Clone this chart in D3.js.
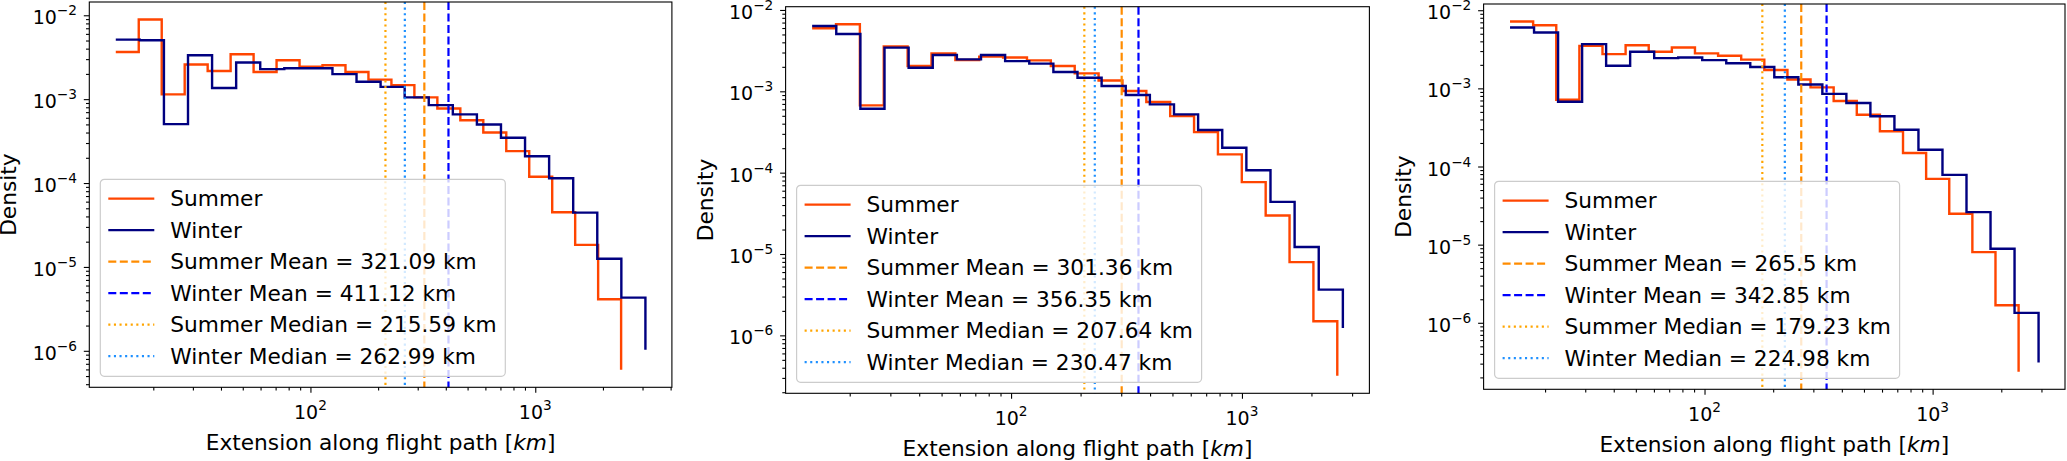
<!DOCTYPE html>
<html lang="en">
<head>
<meta charset="UTF-8">
<title>Extension along flight path</title>
<script src="https://cdn.jsdelivr.net/npm/d3@7"></script>
<style>
  body { margin: 0; background: #fff; }
  text { font-family: "DejaVu Sans", sans-serif; fill: #000; }
</style>
</head>
<body>
<script>

// histogram bins: log-spaced from the shortest to the longest flight of each season
var binStart  = [13.62, 13.75, 14.04];
var summerEnd = [2409, 2588, 2382];
var winterEnd = [3090, 2736, 2914];

// density per bin
var summer1 = [3.65e-3, 8.9e-3, 1.14e-3, 2.59e-3, 2.17e-3, 3.43e-3, 2.11e-3, 2.91e-3, 2.43e-3, 2.54e-3, 2.11e-3,
               1.71e-3, 1.47e-3, 1.05e-3, 7.74e-4, 5.6e-4, 4.0e-4, 2.4e-4, 1.19e-4, 4.48e-5, 1.83e-5, 4.12e-6];
var winter1 = [5.13e-3, 5.04e-3, 5.04e-4, 3.34e-3, 1.36e-3, 2.74e-3, 2.28e-3, 2.34e-3, 2.34e-3, 1.99e-3, 1.61e-3,
               1.40e-3, 1.05e-3, 8.49e-4, 6.58e-4, 4.99e-4, 3.47e-4, 2.09e-4, 1.14e-4, 4.44e-5, 1.25e-5, 4.31e-6];
var summer2 = [5.95e-3, 6.67e-3, 6.71e-4, 3.55e-3, 2.05e-3, 2.93e-3, 2.43e-3, 2.67e-3, 2.6e-3, 2.4e-3, 2.05e-3,
               1.66e-3, 1.36e-3, 1.01e-3, 7.38e-4, 4.95e-4, 3.15e-4, 1.68e-4, 7.64e-5, 2.97e-5, 7.94e-6, 1.49e-6];
var winter2 = [6.35e-3, 5.07e-3, 6.11e-4, 3.44e-3, 1.95e-3, 2.79e-3, 2.47e-3, 2.79e-3, 2.35e-3, 2.19e-3, 1.73e-3,
               1.47e-3, 1.16e-3, 9.0e-4, 6.9e-4, 5.2e-4, 3.34e-4, 2.02e-4, 1.07e-4, 4.38e-5, 1.22e-5, 3.65e-6];
var summer3 = [7.17e-3, 6.43e-3, 7.16e-4, 3.5e-3, 2.74e-3, 3.57e-3, 2.94e-3, 3.34e-3, 2.8e-3, 2.61e-3, 2.33e-3,
               1.72e-3, 1.30e-3, 1.03e-3, 6.9e-4, 4.6e-4, 2.82e-4, 1.49e-4, 6.95e-5, 2.48e-5, 8.03e-6, 1.68e-6];
var winter3 = [6.01e-3, 5.19e-3, 6.75e-4, 3.68e-3, 1.95e-3, 2.94e-3, 2.44e-3, 2.48e-3, 2.3e-3, 2.1e-3, 1.88e-3,
               1.39e-3, 1.12e-3, 8.5e-4, 6.5e-4, 4.4e-4, 2.95e-4, 1.64e-4, 7.82e-5, 2.61e-5, 8.87e-6, 1.34e-6];
// where the outline drops after the last bin
var summerTail = [5.94e-7, 3.19e-7, 2.36e-7];
var winterTail = [1.03e-6, 1.23e-6, 3.1e-7];

var summerMean   = [321.09, 301.36, 265.5];
var winterMean   = [411.12, 356.35, 342.85];
var summerMedian = [215.59, 207.64, 179.23];
var winterMedian = [262.99, 230.47, 224.98];

var xTickValues = [1e2, 1e3];
var xTickLabels = ["2", "3"];
var yTickValues = [1e-2, 1e-3, 1e-4, 1e-5, 1e-6];
var yTickLabels = ["\u22122", "\u22123", "\u22124", "\u22125", "\u22126"];

var summerValues = [summer1, summer2, summer3];
var winterValues = [winter1, winter2, winter3];

// axes boxes in pixels
var boxes = [
    { left: 89.3,   right: 671.9,  top: 2,   bottom: 387.3 },
    { left: 785.6,  right: 1369.4, top: 6.7, bottom: 393.3 },
    { left: 1483.6, right: 2065,   top: 4,   bottom: 389.3 }
];

var colors = {
    summer: "#ff4500", winter: "#000080",
    summerMean: "#ff8c00", winterMean: "#0000ff",
    summerMedian: "#ffa500", winterMedian: "#1e90ff"
};
var dashed = "8,3.5";
var dotted = "2.1,3.5";

var svg = d3.select("body").append("svg")
    .attr("width", 2067)
    .attr("height", 461);

svg.append("rect").attr("width", 2067).attr("height", 461).attr("fill", "white");

function logEdges(lo, hi, n) {
    var a = Math.log10(lo), b = Math.log10(hi);
    return d3.range(n + 1).map(function (k) { return Math.pow(10, a + (b - a) * k / n); });
}

// matplotlib-like 5% margin in log space
function padded(lo, hi) {
    var a = Math.log10(lo), b = Math.log10(hi), m = (b - a) * 0.05;
    return [Math.pow(10, a - m), Math.pow(10, b + m)];
}

// "10" with a raised exponent
function powLabel(sel, sup) {
    sel.append("tspan").text("10");
    sel.append("tspan")
        .attr("font-size", "0.72em")
        .attr("dy", -9)
        .text(sup);
}

function drawPanel(i) {
    var box = boxes[i];
    var summer = summerValues[i], winter = winterValues[i];
    var sEdges = logEdges(binStart[i], summerEnd[i], summer.length);
    var wEdges = logEdges(binStart[i], winterEnd[i], winter.length);

    var allY = summer.concat(winter, [summerTail[i], winterTail[i]]);
    var x = d3.scaleLog()
        .domain(padded(binStart[i], Math.max(summerEnd[i], winterEnd[i])))
        .range([box.left, box.right]);
    var y = d3.scaleLog()
        .domain(padded(d3.min(allY), d3.max(allY)))
        .range([box.bottom, box.top]);

    var g = svg.append("g");

    var line = d3.line()
        .x(function (d) { return x(d[0]); })
        .y(function (d) { return y(d[1]); })
        .curve(d3.curveStepAfter);

    function stepPoints(values, edges, tail) {
        var pts = values.map(function (v, k) { return [edges[k], v]; });
        pts.push([edges[values.length], tail]);
        return pts;
    }

    g.append("path")
        .attr("d", line(stepPoints(summer, sEdges, summerTail[i])))
        .attr("fill", "none")
        .attr("stroke", colors.summer)
        .attr("stroke-width", 2.4);

    g.append("path")
        .attr("d", line(stepPoints(winter, wEdges, winterTail[i])))
        .attr("fill", "none")
        .attr("stroke", colors.winter)
        .attr("stroke-width", 2.4);

    var stats = [
        { v: summerMean[i],   color: colors.summerMean,   dash: dashed, label: "Summer Mean = " + summerMean[i] + " km" },
        { v: winterMean[i],   color: colors.winterMean,   dash: dashed, label: "Winter Mean = " + winterMean[i] + " km" },
        { v: summerMedian[i], color: colors.summerMedian, dash: dotted, label: "Summer Median = " + summerMedian[i] + " km" },
        { v: winterMedian[i], color: colors.winterMedian, dash: dotted, label: "Winter Median = " + winterMedian[i] + " km" }
    ];

    g.selectAll(".vline")
        .data(stats)
        .enter().append("line")
        .attr("class", "vline")
        .attr("x1", function (d) { return x(d.v); })
        .attr("x2", function (d) { return x(d.v); })
        .attr("y1", box.top)
        .attr("y2", box.bottom)
        .attr("stroke", function (d) { return d.color; })
        .attr("stroke-width", 2.2)
        .attr("stroke-dasharray", function (d) { return d.dash; });

    // axes
    var xMinor = x.ticks().filter(function (t) { return xTickValues.indexOf(t) < 0; });
    var yMinor = y.ticks().filter(function (t) { return yTickValues.indexOf(t) < 0; });

    function styleAxis(a) {
        a.select(".domain").remove();
        a.selectAll("line").attr("stroke", "#000").attr("stroke-width", 1.1);
    }

    g.append("g")
        .attr("transform", "translate(0," + box.bottom + ")")
        .call(d3.axisBottom(x).tickValues(xMinor).tickSize(3.3).tickSizeOuter(0).tickFormat(""))
        .call(styleAxis);
    g.append("g")
        .attr("transform", "translate(0," + box.bottom + ")")
        .call(d3.axisBottom(x).tickValues(xTickValues).tickSize(5.5).tickSizeOuter(0).tickFormat(""))
        .call(styleAxis);
    g.append("g")
        .attr("transform", "translate(" + box.left + ",0)")
        .call(d3.axisLeft(y).tickValues(yMinor).tickSize(3.3).tickSizeOuter(0).tickFormat(""))
        .call(styleAxis);
    g.append("g")
        .attr("transform", "translate(" + box.left + ",0)")
        .call(d3.axisLeft(y).tickValues(yTickValues).tickSize(5.5).tickSizeOuter(0).tickFormat(""))
        .call(styleAxis);

    xTickValues.forEach(function (t, k) {
        g.append("text")
            .attr("x", x(t))
            .attr("y", box.bottom + 32)
            .attr("text-anchor", "middle")
            .attr("font-size", 19)
            .call(powLabel, xTickLabels[k]);
    });

    yTickValues.forEach(function (t, k) {
        g.append("text")
            .attr("x", box.left - 12.3)
            .attr("y", y(t) + 9)
            .attr("text-anchor", "end")
            .attr("font-size", 19)
            .call(powLabel, yTickLabels[k]);
    });

    // frame
    g.append("rect")
        .attr("x", box.left)
        .attr("y", box.top)
        .attr("width", box.right - box.left)
        .attr("height", box.bottom - box.top)
        .attr("fill", "none")
        .attr("stroke", "#000")
        .attr("stroke-width", 1.1);

    g.append("text")
        .attr("x", (box.left + box.right) / 2)
        .attr("y", box.bottom + 62.5)
        .attr("text-anchor", "middle")
        .attr("font-size", 21.7)
        .call(function (sel) {
            sel.append("tspan").text("Extension along flight path [");
            sel.append("tspan").attr("font-style", "italic").text("km");
            sel.append("tspan").text("]");
        });

    g.append("text")
        .attr("transform", "translate(" + (box.left - 73) + "," + ((box.top + box.bottom) / 2) + ") rotate(-90)")
        .attr("text-anchor", "middle")
        .attr("font-size", 21.7)
        .text("Density");

    // legend, lower left
    var rows = [
        { label: "Summer", color: colors.summer, dash: null, w: 2.4 },
        { label: "Winter", color: colors.winter, dash: null, w: 2.4 }
    ].concat(stats.map(function (d) { return { label: d.label, color: d.color, dash: d.dash, w: 2.2 }; }));

    var rowH = 31.5, legH = 197, legW = 405;
    var lx = box.left + 11, ly = box.bottom - 11 - legH;
    var leg = g.append("g").attr("transform", "translate(" + lx + "," + ly + ")");

    leg.append("rect")
        .attr("width", legW)
        .attr("height", legH)
        .attr("rx", 4)
        .attr("fill", "white")
        .attr("fill-opacity", 0.8)
        .attr("stroke", "#cccccc")
        .attr("stroke-width", 1.2);

    var items = leg.selectAll(".item")
        .data(rows)
        .enter().append("g")
        .attr("class", "item")
        .attr("transform", function (d, k) { return "translate(0," + (19.3 + k * rowH) + ")"; });

    items.append("line")
        .attr("x1", 8).attr("x2", 54)
        .attr("stroke", function (d) { return d.color; })
        .attr("stroke-width", function (d) { return d.w; })
        .attr("stroke-dasharray", function (d) { return d.dash; });

    items.append("text")
        .attr("x", 70)
        .attr("dy", "0.36em")
        .attr("font-size", 21.7)
        .text(function (d) { return d.label; });
}

[0, 1, 2].forEach(drawPanel);

</script>
</body>
</html>
